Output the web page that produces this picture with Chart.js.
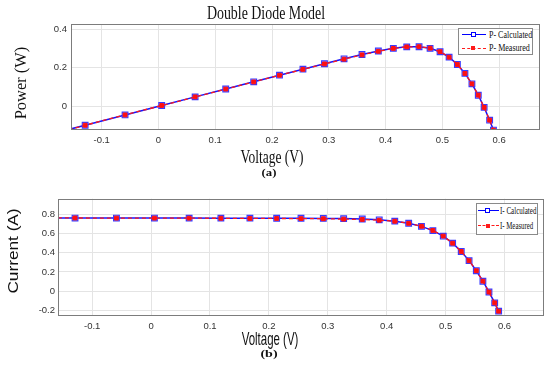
<!DOCTYPE html>
<html>
<head>
<meta charset="utf-8">
<script src="https://cdn.jsdelivr.net/npm/chart.js@4.4.1/dist/chart.umd.min.js"></script>
<style>
  body { margin: 0; background: #fff; }
  #fig { position: relative; width: 550px; height: 375px; overflow: hidden; background: #fff; }
  canvas { position: absolute; left: 0; }
  .t { position: absolute; white-space: nowrap; line-height: 1; color: #111; }
  .serif { font-family: "Liberation Serif", "Times New Roman", serif; }
  .sans { font-family: "Liberation Sans", Arial, sans-serif; }
  .leg { position: absolute; background: #fff; border: 1px solid #8a8a8a; box-sizing: border-box; }
  .ln { position: absolute; height: 0; }
  .mk { position: absolute; box-sizing: border-box; }
</style>
</head>
<body>
<div id="fig">
  <canvas id="powerChart" width="550" height="150" style="top:0"></canvas>
  <canvas id="currentChart" width="550" height="150" style="top:190px"></canvas>

  <span class="t serif fit" style="font-size:18.5px" data-cx="266" data-cy="13" data-w="118">Double Diode Model</span>
  <span class="t serif fit" style="font-size:16px" data-cx="21" data-cy="83" data-w="73" data-rot="1">Power (W)</span>
  <span class="t serif fit" style="font-size:19.5px" data-cx="271.5" data-cy="157" data-w="63">Voltage (V)</span>
  <span class="t serif fit" style="font-size:11px;font-weight:bold" data-cx="269" data-cy="171.5" data-w="15">(a)</span>

  <span class="t sans fit" style="font-size:15px" data-cx="12" data-cy="250.5" data-w="85" data-rot="1">Current (A)</span>
  <span class="t sans fit" style="font-size:18.5px" data-cx="270" data-cy="338.5" data-w="57">Voltage (V)</span>
  <span class="t serif fit" style="font-size:11px;font-weight:bold" data-cx="268.5" data-cy="353" data-w="16.5">(b)</span>

  <!-- legend (a) -->
  <div class="leg" style="left:458px;top:28px;width:75px;height:27px"></div>
  <div class="ln" style="left:462px;top:34px;width:24px;border-top:1.5px solid #0000ff"></div>
  <div class="mk" style="left:470.5px;top:32.3px;width:5px;height:5px;border:1px solid #0000ff;background:#fff"></div>
  <span class="t serif lfit" style="font-size:10px" data-x="488.5" data-cy="35" data-w="43">P- Calculated</span>
  <div class="ln" style="left:462px;top:47.5px;width:24px;border-top:1.5px dashed #ff1a1a"></div>
  <div class="mk" style="left:471px;top:46.3px;width:4px;height:4px;background:#ff1a1a"></div>
  <span class="t serif lfit" style="font-size:10px" data-x="488.5" data-cy="48.3" data-w="41">P- Measured</span>

  <!-- legend (b) -->
  <div class="leg" style="left:476px;top:203px;width:62px;height:32px"></div>
  <div class="ln" style="left:478px;top:210px;width:20.5px;border-top:1.5px solid #0000ff"></div>
  <div class="mk" style="left:485.3px;top:208.2px;width:5px;height:5px;border:1px solid #0000ff;background:#fff"></div>
  <span class="t serif lfit" style="font-size:10px" data-x="499.5" data-cy="210.7" data-w="36.5">I- Calculated</span>
  <div class="ln" style="left:478px;top:225.3px;width:20.5px;border-top:1.5px dashed #ff1a1a"></div>
  <div class="mk" style="left:485.8px;top:224.2px;width:4px;height:4px;background:#ff1a1a"></div>
  <span class="t serif lfit" style="font-size:10px" data-x="499.5" data-cy="226" data-w="33.5">I- Measured</span>
</div>

<script>
// voltage of each measured point (V); the first one lies left of the visible range
const voltage = [-0.2057, -0.1291, -0.0588, 0.0057, 0.0646, 0.1185, 0.1678, 0.2132, 0.2545, 0.2924,
  0.3269, 0.3585, 0.3873, 0.4137, 0.4373, 0.4590, 0.4784, 0.4960, 0.5119, 0.5265, 0.5398,
  0.5521, 0.5633, 0.5736, 0.5833, 0.5900];

const powerMeasured = [-0.1572, -0.0984, -0.0447, 0.0043, 0.0491, 0.0899, 0.1270, 0.1614, 0.1923, 0.2205,
  0.2453, 0.2676, 0.2860, 0.3012, 0.3090, 0.3101, 0.3023, 0.2842, 0.2554, 0.2174, 0.1708,
  0.1170, 0.0583, -0.0057, -0.0717, -0.1239];
const powerCalculated = [-0.1566, -0.0982, -0.0447, 0.0043, 0.0491, 0.0901, 0.1275, 0.1620, 0.1932, 0.2216,
  0.2469, 0.2692, 0.2876, 0.3016, 0.3092, 0.3096, 0.3014, 0.2838, 0.2559, 0.2174, 0.1713,
  0.1170, 0.0578, -0.0053, -0.0719, -0.1234];

const currentMeasured = [0.7640, 0.7620, 0.7605, 0.7605, 0.7600, 0.7590, 0.7570, 0.7570, 0.7555, 0.7540,
  0.7505, 0.7465, 0.7385, 0.7280, 0.7065, 0.6755, 0.6320, 0.5730, 0.4990, 0.4130, 0.3165,
  0.2120, 0.1035, -0.0100, -0.1230, -0.2100];
const currentCalculated = [0.7611, 0.7609, 0.7608, 0.7607, 0.7606, 0.7604, 0.7601, 0.7597, 0.7590, 0.7578,
  0.7553, 0.7508, 0.7427, 0.7290, 0.7071, 0.6746, 0.6301, 0.5722, 0.4999, 0.4130, 0.3173,
  0.2120, 0.1026, -0.0093, -0.1233, -0.2091];

const voltageTicks = [-0.1, 0, 0.1, 0.2, 0.3, 0.4, 0.5, 0.6];
const voltageTickLabels = ['-0.1', '0', '0.1', '0.2', '0.3', '0.4', '0.5', '0.6'];
const powerTicks = [0, 0.2, 0.4];
const powerTickLabels = ['0', '0.2', '0.4'];
const currentTicks = [-0.2, 0, 0.2, 0.4, 0.6, 0.8];
const currentTickLabels = ['-0.2', '0', '0.2', '0.4', '0.6', '0.8'];

const tickFont = { family: '"Liberation Sans Narrow", "Liberation Sans", Arial, sans-serif', size: 9.5 };

// MATLAB style box round the plot area
const framePlugin = {
  id: 'frame',
  afterDraw(chart) {
    const { ctx, chartArea: a } = chart;
    ctx.save();
    ctx.strokeStyle = '#7c7c7c';
    ctx.lineWidth = 1;
    ctx.strokeRect(Math.round(a.left) + 0.5, Math.round(a.top) + 0.5,
      Math.round(a.width) - 1, Math.round(a.height) - 1);
    ctx.restore();
  }
};

function points(ys) {
  return voltage.map((v, i) => ({ x: v, y: ys[i] }));
}

function makeChart(id, cfg) {
  return new Chart(document.getElementById(id), {
    type: 'line',
    data: {
      datasets: [
        {
          label: 'Measured',
          data: points(cfg.measured),
          borderColor: '#ff1a1a',
          borderWidth: 1.3,
          borderDash: [4, 3],
          pointStyle: 'rect',
          pointRadius: 2.7,
          pointBackgroundColor: '#ff1010',
          pointBorderColor: '#ff1010',
          pointBorderWidth: 1
        },
        {
          label: 'Calculated',
          data: points(cfg.calculated),
          borderColor: '#1414ff',
          borderWidth: 1.5,
          pointStyle: 'rect',
          pointRadius: 4,
          pointBackgroundColor: 'rgba(140,140,255,0.6)',
          pointBorderColor: '#3a3aff',
          pointBorderWidth: 1.2
        }
      ]
    },
    options: {
      responsive: false,
      animation: false,
      devicePixelRatio: 1,
      layout: { padding: cfg.padding },
      plugins: { legend: { display: false }, tooltip: { enabled: false } },
      scales: {
        x: {
          type: 'linear',
          min: cfg.xMin,
          max: cfg.xMax,
          afterBuildTicks: s => { s.ticks = voltageTicks.map(v => ({ value: v })); },
          afterFit: s => { s.height = cfg.xHeight; },
          grid: { color: '#e4e4e4', drawTicks: false },
          border: { display: false },
          ticks: {
            padding: 5,
            font: tickFont,
            color: '#333',
            maxRotation: 0,
            callback: (v, i) => voltageTickLabels[i]
          }
        },
        y: {
          min: cfg.yMin,
          max: cfg.yMax,
          afterBuildTicks: s => { s.ticks = cfg.yTicks.map(v => ({ value: v })); },
          afterFit: s => { s.width = cfg.yWidth; },
          grid: { color: '#e4e4e4', drawTicks: false },
          border: { display: false },
          ticks: {
            padding: cfg.yPad,
            font: tickFont,
            color: '#333',
            callback: (v, i) => cfg.yLabels[i]
          }
        }
      }
    },
    plugins: [framePlugin]
  });
}

makeChart('powerChart', {
  measured: powerMeasured,
  calculated: powerCalculated,
  padding: { top: 24, right: 10, left: 0, bottom: 0 },
  xMin: -0.154, xMax: 0.672, xHeight: 20,
  yMin: -0.123, yMax: 0.428, yWidth: 71, yPad: 4,
  yTicks: powerTicks, yLabels: powerTickLabels
});

makeChart('currentChart', {
  measured: currentMeasured,
  calculated: currentCalculated,
  padding: { top: 8, right: 6, left: 0, bottom: 0 },
  xMin: -0.158, xMax: 0.667, xHeight: 24,
  yMin: -0.26, yMax: 0.963, yWidth: 58, yPad: 3,
  yTicks: currentTicks, yLabels: currentTickLabels
});

// squeeze the text labels to the widths they have in the figure
document.querySelectorAll('.fit').forEach(el => {
  const k = +el.dataset.w / el.offsetWidth;
  el.style.left = el.dataset.cx + 'px';
  el.style.top = el.dataset.cy + 'px';
  el.style.transform = 'translate(-50%,-50%) ' + (el.dataset.rot ? 'rotate(-90deg) ' : '') + 'scaleX(' + k + ')';
});
document.querySelectorAll('.lfit').forEach(el => {
  const k = +el.dataset.w / el.offsetWidth;
  el.style.left = el.dataset.x + 'px';
  el.style.top = el.dataset.cy + 'px';
  el.style.transformOrigin = '0 50%';
  el.style.transform = 'translateY(-50%) scaleX(' + k + ')';
});
</script>
</body>
</html>
